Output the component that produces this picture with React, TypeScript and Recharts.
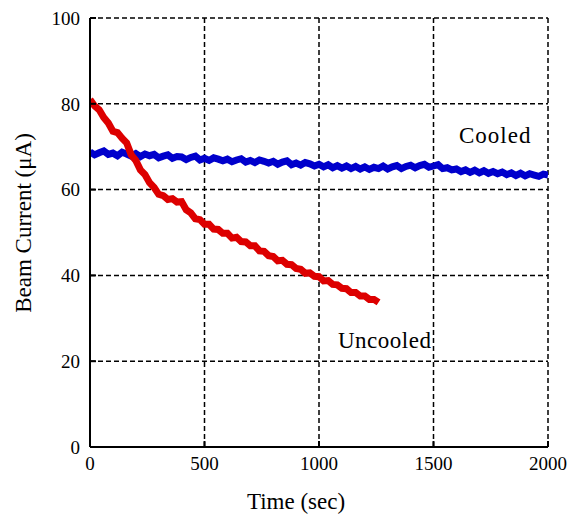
import React from 'react';
import { LineChart, Line, XAxis, YAxis, CartesianGrid } from 'recharts';

// Cooled beam current (µA), sampled every 20 s from 0 to 2000 s
const cooledValues: number[] = [
  68.8, 68.1, 68.6, 69.0, 68.2, 68.5, 67.9, 68.7, 68.3, 67.8,
  68.4, 67.7, 68.3, 67.9, 68.2, 67.4, 67.8, 68.1, 67.3, 67.7,
  67.6, 67.0, 67.5, 67.8, 66.9, 67.3, 66.8, 67.4, 67.1, 66.7,
  67.1, 66.5, 66.9, 67.2, 66.4, 66.8, 66.3, 66.9, 66.6, 66.2,
  66.6, 65.9, 66.4, 66.7, 65.8, 66.2, 65.7, 66.3, 66.0, 65.5,
  65.9, 65.3, 65.8, 65.1, 65.6, 65.0, 65.5, 64.9, 65.4, 64.8,
  65.3, 64.7, 65.2, 64.9, 65.5, 64.8, 65.3, 65.6, 64.9, 65.4,
  65.7, 65.1, 65.6, 65.9, 65.2, 65.5, 65.8, 64.9, 65.1, 64.6,
  64.8, 64.2, 64.6, 64.0, 64.5, 63.9, 64.4, 63.8, 64.2, 63.7,
  64.1, 63.5, 63.9, 63.3, 63.8, 63.2, 63.7, 63.4, 63.1, 63.6,
  63.4,
];

// Uncooled beam current (µA), sampled every 20 s from 0 to 1260 s
const uncooledValues: number[] = [
  81.0, 79.5, 78.6, 76.8, 75.5, 73.6, 73.3, 72.0, 70.9, 68.1,
  66.8, 64.6, 63.5, 61.6, 60.5, 58.9, 58.6, 57.7, 57.9, 57.1,
  57.2, 55.3, 54.6, 53.2, 53.0, 51.9, 51.9, 50.8, 50.7, 49.8,
  49.8, 48.7, 48.9, 47.9, 47.8, 46.9, 46.9, 45.7, 45.6, 44.6,
  44.4, 43.4, 43.5, 42.6, 42.5, 41.6, 41.4, 40.5, 40.6, 39.8,
  39.7, 38.7, 38.8, 37.9, 37.8, 37.0, 36.9, 36.0, 36.0, 35.2,
  35.2, 34.4, 34.4, 33.7,
];

const sampleStep = 20;
const xTicks = [0, 500, 1000, 1500, 2000];
const yTicks = [0, 20, 40, 60, 80, 100];

const cooledData = cooledValues.map((v, i) => ({ t: i * sampleStep, cooled: v }));
const uncooledData = uncooledValues.map((v, i) => ({ t: i * sampleStep, uncooled: v }));

const FONT = '"Liberation Serif", "Times New Roman", serif';
const tickStyle = { fill: '#000', fontSize: 19, fontFamily: FONT };

export default function App() {
  return (
    <div style={{ position: 'absolute', left: 0, top: 0, width: 571, height: 516, background: '#fff' }}>
      <LineChart
        width={571}
        height={516}
        margin={{ top: 18, right: 23, bottom: 0, left: 0 }}
      >
        <CartesianGrid
          stroke="#000"
          strokeDasharray="5 3"
          strokeWidth={1.5}
          horizontalValues={yTicks}
          verticalValues={xTicks}
        />
        <XAxis
          dataKey="t"
          type="number"
          domain={[0, 2000]}
          ticks={xTicks}
          height={69}
          tickSize={-6}
          tickMargin={16}
          axisLine={{ stroke: '#000', strokeWidth: 2 }}
          tickLine={{ stroke: '#000', strokeWidth: 2 }}
          tick={tickStyle}
          allowDataOverflow
        />
        <XAxis
          xAxisId="top"
          orientation="top"
          dataKey="t"
          type="number"
          domain={[0, 2000]}
          ticks={xTicks}
          height={0}
          tickSize={-6}
          axisLine={{ stroke: '#000', strokeWidth: 2 }}
          tickLine={{ stroke: '#000', strokeWidth: 2 }}
          tick={false}
        />
        <YAxis
          type="number"
          domain={[0, 100]}
          ticks={yTicks}
          width={90}
          tickSize={-6}
          tickMargin={16}
          axisLine={{ stroke: '#000', strokeWidth: 2 }}
          tickLine={{ stroke: '#000', strokeWidth: 2 }}
          tick={tickStyle}
        />
        <YAxis
          yAxisId="right"
          orientation="right"
          type="number"
          domain={[0, 100]}
          ticks={yTicks}
          width={0}
          tickSize={-6}
          axisLine={{ stroke: '#000', strokeWidth: 2 }}
          tickLine={{ stroke: '#000', strokeWidth: 2 }}
          tick={false}
        />
        <Line
          data={cooledData}
          dataKey="cooled"
          type="linear"
          stroke="#0000CC"
          strokeWidth={7}
          dot={false}
          isAnimationActive={false}
        />
        <Line
          data={uncooledData}
          dataKey="uncooled"
          type="linear"
          stroke="#DD0000"
          strokeWidth={7}
          dot={false}
          isAnimationActive={false}
        />
      </LineChart>
      <svg
        width={571}
        height={516}
        style={{ position: 'absolute', left: 0, top: 0, pointerEvents: 'none' }}
      >
        <text x={296} y={509} textAnchor="middle" fontSize={23} fontFamily={FONT} fill="#000">
          Time (sec)
        </text>
        <text
          x={31}
          y={223}
          textAnchor="middle"
          fontSize={23}
          fontFamily={FONT}
          fill="#000"
          transform="rotate(-90, 31, 223)"
        >
          Beam Current (μA)
        </text>
        <text x={459} y={143} fontSize={23} fontFamily={FONT} fill="#000" letterSpacing={1}>
          Cooled
        </text>
        <text x={338} y={348} fontSize={23} fontFamily={FONT} fill="#000" letterSpacing={0.5}>
          Uncooled
        </text>
      </svg>
    </div>
  );
}
